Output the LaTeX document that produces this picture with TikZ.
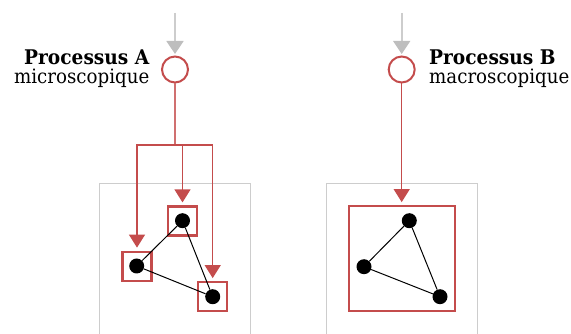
\documentclass[tikz,border=0pt]{standalone}
\usepackage{fontspec}
\setmainfont{DejaVu Serif}[FakeStretch=0.92]
\usetikzlibrary{arrows.meta}
\definecolor{pred}{RGB}{196,76,76}
\definecolor{pgrey}{RGB}{190,190,190}
\definecolor{fgrey}{RGB}{205,205,205}
\tikzset{
  proc/.style={circle,draw=pred,line width=2pt,fill=white,minimum size=26pt,inner sep=0pt},
  inarrow/.style={draw=fgrey,line width=1.6pt,-{Triangle[width=17pt,length=13pt,fill=pgrey,color=pgrey]},shorten >=1.5pt},
  redarrow/.style={draw=pred,line width=1.3pt,-{Triangle[width=16pt,length=13pt,fill=pred,color=pred]},shorten >=3pt},
  redline/.style={draw=pred!80,line width=1.3pt},
  selbox/.style={draw=pred,line width=2.2pt,minimum size=29pt,inner sep=0pt},
  bigbox/.style={draw=pred,line width=2.2pt,minimum width=106pt,minimum height=105pt,inner sep=0pt},
  dot/.style={circle,fill=black,minimum size=15pt,inner sep=0pt},
  edge/.style={draw=black,line width=1pt},
  frame/.style={draw=fgrey,line width=1pt},
  ttl/.style={font=\fontsize{20.2}{20.2}\selectfont\bfseries,inner sep=0pt},
  sub/.style={font=\fontsize{19.8}{19.8}\selectfont,inner sep=0pt}
}
\begin{document}
\begin{tikzpicture}[x=1pt,y=-1pt]
\useasboundingbox (0,0) rectangle (571,334);
\clip (0,0) rectangle (571,334);
% frames
\draw[frame] (99.5,340) -- (99.5,183.5) -- (250.5,183.5) -- (250.5,340);
\draw[frame] (326.5,340) -- (326.5,183.5) -- (477.5,183.5) -- (477.5,340);
% process nodes
\node[proc] (A) at (175,69.5) {};
\node[proc] (B) at (401.7,69.5) {};
\coordinate (inA) at (175,13);
\coordinate (inB) at (401.7,13);
\draw[inarrow] (inA) -- (A);
\draw[inarrow] (inB) -- (B);
% labels
\node[ttl,anchor=base east] (tA) at (149.5,65) {Processus A};
\node[sub,anchor=base east] (sA) at (149.5,84) {microscopique};
\node[ttl,anchor=base west] (tB) at (429,65) {Processus B};
\node[sub,anchor=base west] (sB) at (429,84) {macroscopique};
% left graph
\node[selbox] (b1) at (182.5,221) {};
\node[selbox] (b2) at (137,266.2) {};
\node[selbox] (b3) at (212.7,296.7) {};
\node[dot] (d1) at (182.5,220.7) {};
\node[dot] (d2) at (136.7,266) {};
\node[dot] (d3) at (212.7,296.7) {};
\draw[edge] (d1) -- (d2);
\draw[edge] (d2) -- (d3);
\draw[edge] (d1) -- (d3);
\coordinate (jA) at (175,145);
\draw[redline] (A) -- (jA);
\draw[redarrow] (jA) -| (b2.north);
\draw[redarrow] (jA) -| (b1.north);
\draw[redarrow] (jA) -| (b3.north);
% right graph
\node[bigbox] (bb) at (401.7,258.7) {};
\node[dot] (e1) at (409.3,220.7) {};
\node[dot] (e2) at (364,266.7) {};
\node[dot] (e3) at (440,296.7) {};
\draw[edge] (e1) -- (e2);
\draw[edge] (e2) -- (e3);
\draw[edge] (e1) -- (e3);
\draw[redarrow] (B) -- (bb.north);
\end{tikzpicture}
\end{document}
